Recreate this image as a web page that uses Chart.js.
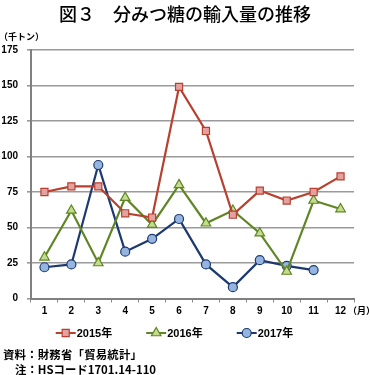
<!DOCTYPE html>
<html><head><meta charset="utf-8">
<script src="https://cdn.jsdelivr.net/npm/chart.js@4/dist/chart.umd.min.js"></script>
<style>
html,body{margin:0;padding:0;background:#fff;width:370px;height:375px;overflow:hidden;}
#wrap{position:relative;width:370px;height:375px;}
canvas{position:absolute;left:0;top:0;}
.t{position:absolute;white-space:nowrap;color:#000;font-family:"Noto Sans CJK JP","Liberation Sans",sans-serif;}
</style></head>
<body><div id="wrap">
<canvas id="c" width="370" height="375"></canvas>
<div class="t" style="left:0;width:370px;text-align:center;top:1px;font-size:18px;font-weight:500;line-height:24px;">図３　分みつ糖の輸入量の推移</div>
<div class="t" style="left:-1px;top:31px;font-size:9px;font-weight:bold;line-height:12px;">（千トン）</div>
<div class="t" style="left:348px;top:305px;font-size:9px;font-weight:bold;line-height:12px;">（月）</div>
<div class="t" style="left:3px;top:347px;font-size:11.4px;font-weight:bold;line-height:15px;letter-spacing:0.2px;">資料：財務省「貿易統計」</div>
<div class="t" style="left:15px;top:361.5px;font-size:11.4px;font-weight:bold;line-height:15px;">注：HSコード1701.14-110</div>
</div>
<script>
const months = ['1','2','3','4','5','6','7','8','9','10','11','12'];
const seriesNames = ['2015年','2016年','2017年'];
const v2015 = [75, 79, 79, 60, 57, 149, 118, 59, 76, 69, 75, 86];
const v2016 = [29, 62, 25, 71, 52, 80, 53, 62, 46, 19, 69, 63];
const v2017 = [22, 24, 94, 33, 42, 56, 24, 8, 27, 23, 20, null];
const yTicks = [0, 25, 50, 75, 100, 125, 150, 175];

const styles = [
  {line:'#b8402f', fill:'#e3a2a0', point:'rect', r:5},
  {line:'#5f8524', fill:'#c4dc8e', point:'triangle', r:5.5},
  {line:'#1d3a70', fill:'#95b4e0', point:'circle', r:4.5}
];

const dataSets = [v2015, v2016, v2017].map((d,i)=>({
  label: seriesNames[i],
  data: d,
  borderColor: styles[i].line,
  backgroundColor: styles[i].fill,
  borderWidth: 2.2,
  pointStyle: styles[i].point,
  pointRadius: styles[i].r,
  pointBorderWidth: 1.2,
  pointBorderColor: styles[i].line,
  pointBackgroundColor: styles[i].fill,
  tension: 0,
  spanGaps: false
}));

const tickFont = {family:'"Liberation Sans", "Noto Sans CJK JP", sans-serif', size:10, weight:'bold'};

// Legend drawn with the library's own point renderer, below the x axis
const legendPlugin = {
  id:'lineLegend',
  afterDraw(chart){
    const ctx = chart.ctx, area = chart.chartArea;
    const y = area.bottom + 34.5;
    ctx.save();
    chart.data.datasets.forEach((ds,i)=>{
      const x0 = area.left + 24.7 + i*90.5;
      ctx.strokeStyle = ds.borderColor; ctx.lineWidth = 2;
      ctx.beginPath(); ctx.moveTo(x0, y); ctx.lineTo(x0+20, y); ctx.stroke();
      ctx.fillStyle = ds.pointBackgroundColor; ctx.strokeStyle = ds.pointBorderColor; ctx.lineWidth = 1.2;
      Chart.helpers.drawPoint(ctx, {pointStyle: ds.pointStyle, radius: ds.pointRadius, rotation:0, borderWidth:1.2}, x0+10, y);
      ctx.fillStyle = '#000';
      ctx.font = 'bold 11px "Liberation Sans", "Noto Sans CJK JP", sans-serif';
      ctx.textAlign = 'left'; ctx.textBaseline = 'middle';
      ctx.fillText(ds.label, x0+21, y+0.5);
    });
    ctx.restore();
  }
};

new Chart(document.getElementById('c'), {
  type:'line',
  data:{labels: months, datasets: dataSets},
  plugins:[legendPlugin],
  options:{
    responsive:false, animation:false, devicePixelRatio:1,
    layout:{padding:{left:2, right:16, top:50, bottom:54.5}},
    plugins:{ title:{display:false}, tooltip:{enabled:false}, legend:{display:false} },
    scales:{
      x:{
        offset:true,
        grid:{offset:true, drawOnChartArea:false, drawTicks:true, tickLength:4, color:'#888', lineWidth:1},
        border:{color:'#808080', width:2},
        ticks:{color:'#000', font:tickFont, padding:3, maxRotation:0, autoSkip:false},
        afterFit(s){ s.height = 22; }
      },
      y:{
        min:0, max:175,
        afterBuildTicks(s){ s.ticks = yTicks.map(v=>({value:v})); },
        grid:{color:'#9a9a9a', lineWidth:1.6, drawTicks:true, tickLength:4},
        border:{color:'#808080', width:2},
        ticks:{color:'#000', font:tickFont, padding:9},
        afterFit(s){ s.width = 29; }
      }
    }
  }
});
</script>
</body></html>
